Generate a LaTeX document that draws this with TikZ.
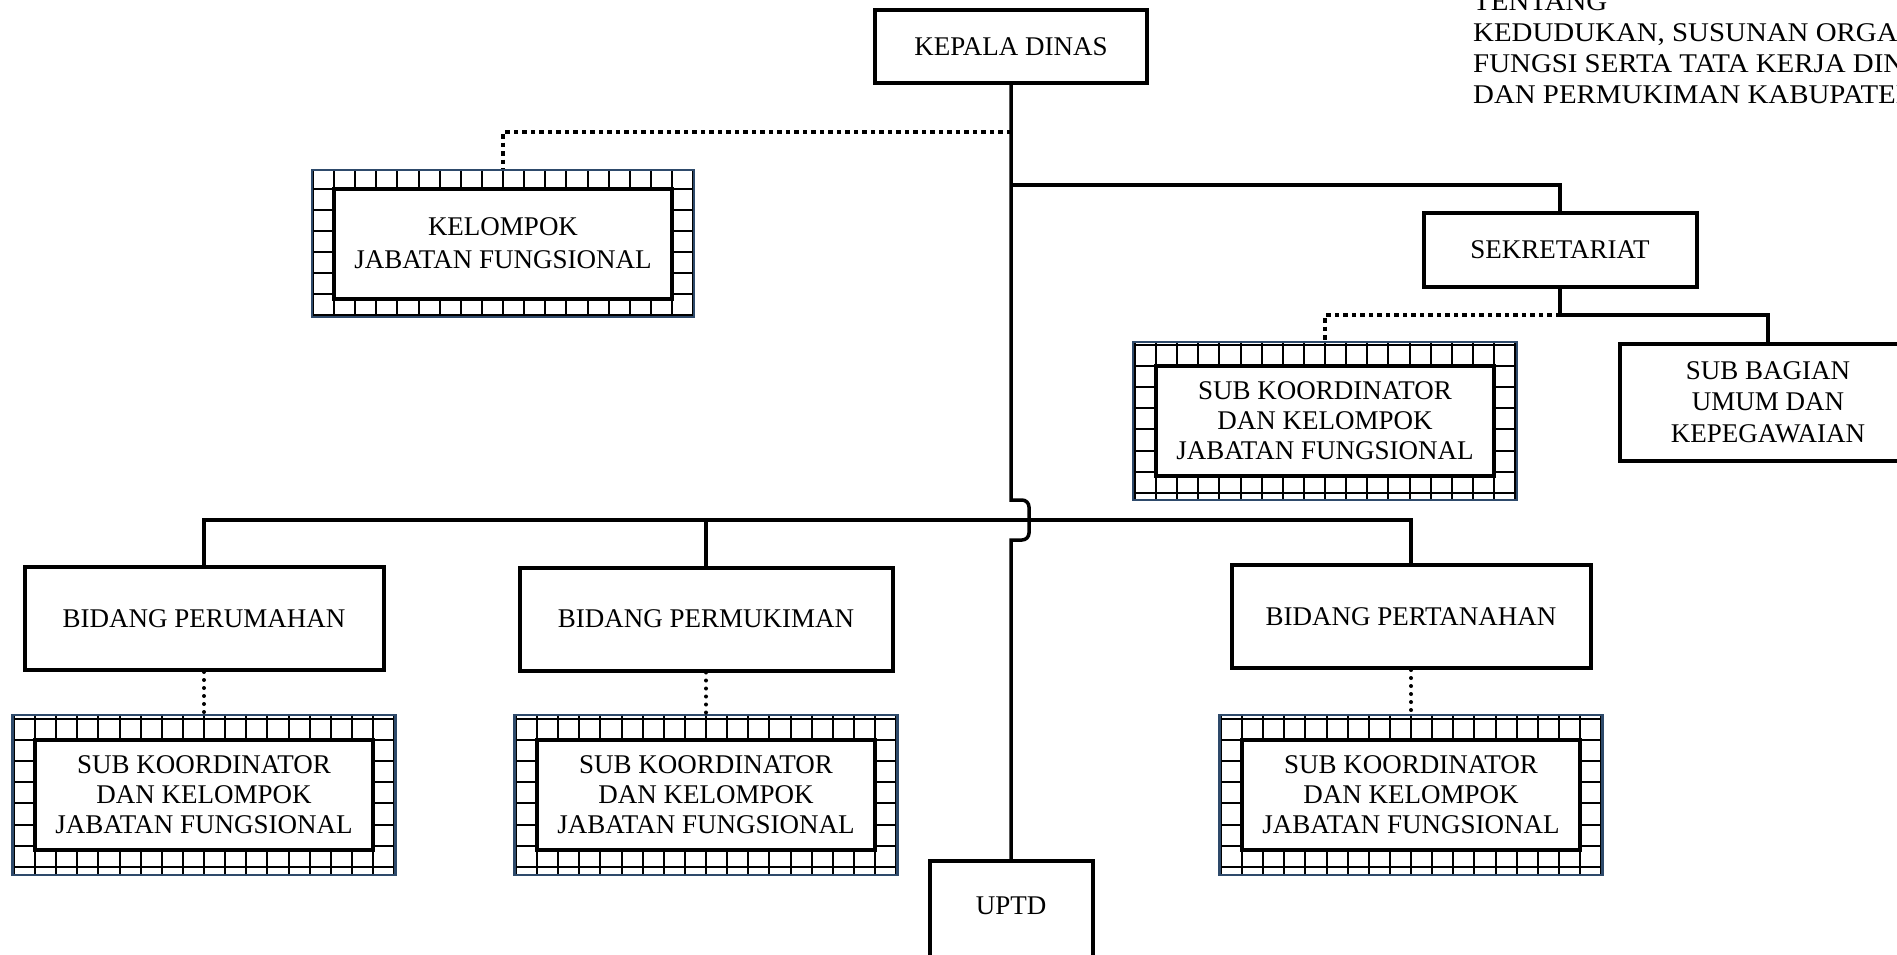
\documentclass[tikz,border=0pt]{standalone}
\usepackage{fontspec}
\setmainfont{Liberation Serif}
\newfontfamily\hdrfont[FakeStretch=1.07]{Liberation Serif}
\usetikzlibrary{positioning, calc}
\definecolor{frameblue}{HTML}{2E4A6B}

\begin{document}
\begin{tikzpicture}[x=1pt, y=-1pt,
    every node/.style={font=\fontsize{27pt}{30pt}\selectfont, align=center},
    unit/.style={draw, line width=4pt, fill=white, inner sep=0pt},
    jfframe/.style={draw=frameblue, line width=2.5pt, minimum width=383pt, minimum height=160pt,
      path picture={
        \foreach \k in {-3,...,19}
          \draw[black, line width=2pt] ($(path picture bounding box.center)+(-169+21.125*\k,-120)$) -- ++(0,240);
        \foreach \k in {-3,...,8}
          \draw[black, line width=2pt] ($(path picture bounding box.center)+(-230,-55+21.125*\k)$) -- ++(460,0);
      }},
    jfbox/.style={unit, minimum width=338pt, minimum height=110pt},
    link/.style={line width=3.5pt},
    dotline/.style={line width=3.5pt, dash pattern=on 4.5pt off 4pt},
    dotround/.style={line width=4pt, line cap=round, dash pattern=on 0pt off 8pt}]
  \clip (0,0) rectangle (1897,954);
  \fill[white] (0,0) rectangle (1897,954);

  % judul (terpotong di kanan)
  \foreach \txt [count=\i] in {TENTANG, {KEDUDUKAN, SUSUNAN ORGANISASI, TUGAS DAN},
      {FUNGSI SERTA TATA KERJA DINAS PERUMAHAN}, {DAN PERMUKIMAN KABUPATEN}}
    \node[anchor=base west, inner sep=0pt, align=left,
      font=\hdrfont\fontsize{27pt}{30pt}\selectfont] (hdr_\i) at (1473,{10+31*(\i-1)}) {\txt};

  \node[unit, minimum width=272pt, minimum height=73pt] (kepala) at (1011,46.5) {KEPALA DINAS};
  \node[unit, minimum width=273pt, minimum height=74pt] (sekre) at (1560,250) {SEKRETARIAT};
  \node[unit, minimum width=296pt, minimum height=117pt,
    font=\fontsize{27pt}{31.5pt}\selectfont] (subum) at (1768,402) {SUB BAGIAN\\UMUM DAN\\KEPEGAWAIAN};

  \node[jfframe, minimum width=382pt, minimum height=147pt] (jf_0) at (503,243.5) {};
  \node[jfbox, font=\fontsize{27pt}{33pt}\selectfont] (jft_0) at (jf_0) {KELOMPOK\\JABATAN FUNGSIONAL};

  \node[jfframe, minimum width=384pt, minimum height=158pt] (jf_s) at (1325,421) {};
  \node[jfbox] (jft_s) at (jf_s) {SUB KOORDINATOR\\DAN KELOMPOK\\JABATAN FUNGSIONAL};

  \foreach \x/\y/\w/\n/\lbl in {204/618.5/359/1/PERUMAHAN, 706/619/373/2/PERMUKIMAN,
      1411/616.5/359/3/PERTANAHAN} {
    \node[unit, minimum width=\w pt, minimum height=103pt] (bid_\n) at (\x,\y) {BIDANG \lbl};
    \node[jfframe] (jf_\n) at (\x,795) {};
    \node[jfbox] (jft_\n) at (jf_\n) {SUB KOORDINATOR\\DAN KELOMPOK\\JABATAN FUNGSIONAL};
    \draw[dotround] (bid_\n.south) -- (jf_\n.north);
  }

  \node[unit, anchor=base, minimum width=163pt, text height=53pt, text depth=80pt] (uptd) at (1011,914) {UPTD};

  % garis komando
  \coordinate (hop) at (1011,520);
  \draw[link] (kepala.south) -- ($(hop)+(0,-20)$) -- ++(11,0) to[out=0,in=90] ++(7,7)
    -- ++(0,26) to[out=-90,in=0] ++(-7,7) -- ++(-11,0) -- (uptd.north);
  \draw[link] (kepala.south |- 0,185) -| (sekre.north);
  \coordinate (sekj) at (sekre.south |- 0,315);
  \draw[link] (sekre.south) -- (sekj) -| (subum.north);
  \draw[link] (bid_1.north) |- (hop) -| (bid_3.north);
  \draw[link] (bid_2.north) -- (bid_2.north |- hop);

  % garis koordinasi
  \draw[dotline] (kepala.south |- 0,132) -| (jf_0.north);
  \draw[dotline] (sekj) -| (jf_s.north);
\end{tikzpicture}
\end{document}
